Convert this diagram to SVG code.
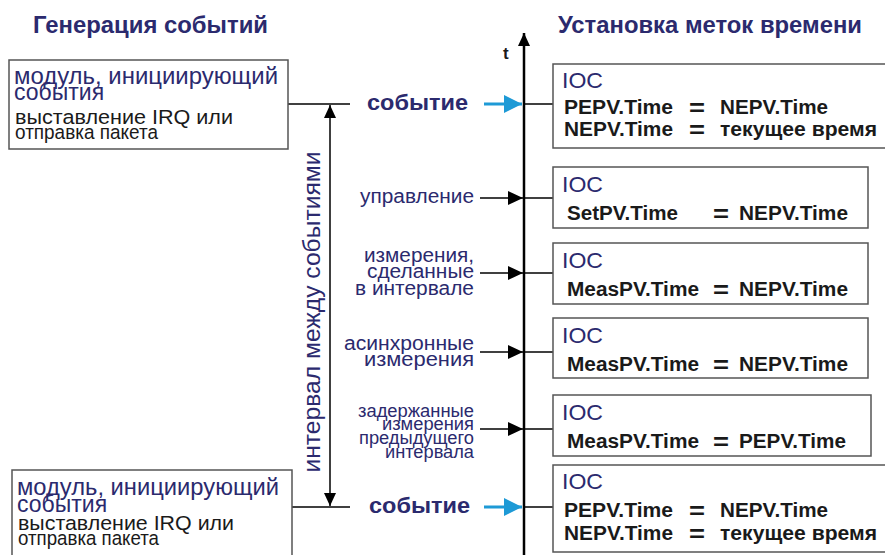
<svg xmlns="http://www.w3.org/2000/svg" width="885" height="555" viewBox="0 0 885 555">
<defs>
<style>
text{font-family:"Liberation Sans",Arial,sans-serif}
.title{font-weight:bold;font-size:23px;fill:#2b2a6e}
.mod{font-size:23px;fill:#2b2a6e}
.act{font-size:20.5px;fill:#1a1a1a}
.ev{font-weight:bold;font-size:22px;fill:#2b2a6e}
.lbl{font-size:20px;fill:#2b2a6e;text-anchor:end}
.lbls{font-size:17.5px;fill:#2b2a6e;text-anchor:end}
.ioc{font-size:22px;fill:#2b2a6e}
.eq{font-weight:bold;font-size:19.5px;fill:#1a1a1a}
.eqs{font-weight:bold;font-size:24px;fill:#1a1a1a}
.box{fill:#fff;stroke:#555;stroke-width:1.5}
.ln{stroke:#000;stroke-width:1.5;fill:none}
.ax{stroke:#000;stroke-width:2.5;fill:none}
.bl{stroke:#1e9ad6;stroke-width:3;fill:none}
</style>
<marker id="ah" markerUnits="userSpaceOnUse" markerWidth="16" markerHeight="16" refX="15" refY="7" orient="auto"><path d="M0,0 L15,7 L0,14 Z" fill="#000"/></marker>
<marker id="ahs" markerUnits="userSpaceOnUse" markerWidth="14" markerHeight="14" refX="13" refY="6" orient="auto-start-reverse"><path d="M0,0 L13,6 L0,12 Z" fill="#000"/></marker>
<marker id="ahb" markerUnits="userSpaceOnUse" markerWidth="20" markerHeight="20" refX="18" refY="9" orient="auto"><path d="M0,0 L18,9 L0,18 Z" fill="#1e9ad6"/></marker>
</defs>
<rect width="885" height="555" fill="#fff"/>

<text class="title" x="33" y="33" textLength="235" lengthAdjust="spacingAndGlyphs">Генерация событий</text>
<text class="title" x="558" y="33" textLength="304" lengthAdjust="spacingAndGlyphs">Установка меток времени</text>

<g id="connectors">
<line class="ax" x1="524" y1="555" x2="524" y2="33" marker-end="url(#ahs)"/>
<line class="ln" x1="288" y1="104" x2="350" y2="104"/>
<line class="ln" x1="292" y1="507" x2="350" y2="507"/>
<line class="ln" x1="330" y1="105" x2="330" y2="506" marker-start="url(#ahs)" marker-end="url(#ahs)"/>
<line class="bl" x1="484" y1="104" x2="522" y2="104" marker-end="url(#ahb)"/>
<line class="bl" x1="484" y1="507" x2="522" y2="507" marker-end="url(#ahb)"/>
<line class="ln" x1="480" y1="198" x2="523" y2="198" marker-end="url(#ah)"/>
<line class="ln" x1="480" y1="273" x2="523" y2="273" marker-end="url(#ah)"/>
<line class="ln" x1="480" y1="352" x2="523" y2="352" marker-end="url(#ah)"/>
<line class="ln" x1="480" y1="429" x2="523" y2="429" marker-end="url(#ah)"/>
<line class="ln" x1="524" y1="104" x2="553" y2="104"/>
<line class="ln" x1="524" y1="198" x2="553" y2="198"/>
<line class="ln" x1="524" y1="273" x2="553" y2="273"/>
<line class="ln" x1="524" y1="352" x2="553" y2="352"/>
<line class="ln" x1="524" y1="429" x2="553" y2="429"/>
<line class="ln" x1="524" y1="507" x2="553" y2="507"/>
</g>

<g id="interval-label"><text class="mod" transform="translate(320,312) rotate(-90)" text-anchor="middle" textLength="321" lengthAdjust="spacingAndGlyphs">интервал между событиями</text></g>
<g id="axis-label"><text x="503" y="59" font-weight="bold" font-size="17" fill="#1a1a1a">t</text></g>

<g id="gen-top">
<rect class="box" x="9" y="60" width="279" height="89"/>
<text class="mod" x="14" y="84" textLength="264" lengthAdjust="spacingAndGlyphs">модуль, инициирующий</text>
<text class="mod" x="14" y="100">события</text>
<text class="act" x="15" y="124" textLength="218" lengthAdjust="spacingAndGlyphs">выставление IRQ или</text>
<text class="act" x="15" y="139" textLength="143" lengthAdjust="spacingAndGlyphs">отправка пакета</text>
</g>
<g id="gen-bottom">
<rect class="box" x="12" y="470" width="280" height="95"/>
<text class="mod" x="17" y="495" textLength="262" lengthAdjust="spacingAndGlyphs">модуль, инициирующий</text>
<text class="mod" x="17" y="512">события</text>
<text class="act" x="18" y="530" textLength="216" lengthAdjust="spacingAndGlyphs">выставление IRQ или</text>
<text class="act" x="18" y="545" textLength="141" lengthAdjust="spacingAndGlyphs">отправка пакета</text>
</g>

<g id="event-top"><text class="ev" x="367" y="110" textLength="101" lengthAdjust="spacingAndGlyphs">событие</text></g>
<g id="event-bottom"><text class="ev" x="369" y="513" textLength="101" lengthAdjust="spacingAndGlyphs">событие</text></g>

<g id="lbl-control"><text class="lbl" x="474" y="203" textLength="114" lengthAdjust="spacingAndGlyphs">управление</text></g>
<g id="lbl-meas">
<text class="lbl" x="474" y="262" textLength="110" lengthAdjust="spacingAndGlyphs">измерения,</text>
<text class="lbl" x="474" y="278" textLength="107" lengthAdjust="spacingAndGlyphs">сделанные</text>
<text class="lbl" x="474" y="295" textLength="119" lengthAdjust="spacingAndGlyphs">в интервале</text>
</g>
<g id="lbl-async">
<text class="lbl" x="474" y="350" textLength="130" lengthAdjust="spacingAndGlyphs">асинхронные</text>
<text class="lbl" x="474" y="366" textLength="110" lengthAdjust="spacingAndGlyphs">измерения</text>
</g>
<g id="lbl-delayed">
<text class="lbls" x="474" y="417" textLength="116" lengthAdjust="spacingAndGlyphs">задержанные</text>
<text class="lbls" x="474" y="430" textLength="92" lengthAdjust="spacingAndGlyphs">измерения</text>
<text class="lbls" x="474" y="444" textLength="115" lengthAdjust="spacingAndGlyphs">предыдущего</text>
<text class="lbls" x="474" y="458" textLength="89" lengthAdjust="spacingAndGlyphs">интервала</text>
</g>

<g id="ioc1">
<rect class="box" x="553" y="64" width="340" height="84"/>
<text class="ioc" x="562" y="88" textLength="41" lengthAdjust="spacingAndGlyphs">IOC</text>
<text class="eq" x="564" y="114" textLength="109" lengthAdjust="spacingAndGlyphs">PEPV.Time</text>
<text class="eqs" x="689" y="116" textLength="16" lengthAdjust="spacingAndGlyphs">=</text>
<text class="eq" x="720" y="114" textLength="108" lengthAdjust="spacingAndGlyphs">NEPV.Time</text>
<text class="eq" x="564" y="136" textLength="109" lengthAdjust="spacingAndGlyphs">NEPV.Time</text>
<text class="eqs" x="689" y="138" textLength="16" lengthAdjust="spacingAndGlyphs">=</text>
<text class="eq" x="720" y="136" textLength="157" lengthAdjust="spacingAndGlyphs">текущее время</text>
</g>
<g id="ioc2">
<rect class="box" x="553" y="167" width="315" height="61"/>
<text class="ioc" x="562" y="192" textLength="41" lengthAdjust="spacingAndGlyphs">IOC</text>
<text class="eq" x="567" y="220" textLength="111" lengthAdjust="spacingAndGlyphs">SetPV.Time</text>
<text class="eqs" x="713" y="222" textLength="16" lengthAdjust="spacingAndGlyphs">=</text>
<text class="eq" x="739" y="220" textLength="109" lengthAdjust="spacingAndGlyphs">NEPV.Time</text>
</g>
<g id="ioc3">
<rect class="box" x="553" y="243" width="315" height="61"/>
<text class="ioc" x="562" y="268" textLength="41" lengthAdjust="spacingAndGlyphs">IOC</text>
<text class="eq" x="567" y="296" textLength="132" lengthAdjust="spacingAndGlyphs">MeasPV.Time</text>
<text class="eqs" x="713" y="298" textLength="16" lengthAdjust="spacingAndGlyphs">=</text>
<text class="eq" x="739" y="296" textLength="109" lengthAdjust="spacingAndGlyphs">NEPV.Time</text>
</g>
<g id="ioc4">
<rect class="box" x="553" y="318" width="315" height="60"/>
<text class="ioc" x="562" y="343" textLength="41" lengthAdjust="spacingAndGlyphs">IOC</text>
<text class="eq" x="567" y="371" textLength="132" lengthAdjust="spacingAndGlyphs">MeasPV.Time</text>
<text class="eqs" x="713" y="373" textLength="16" lengthAdjust="spacingAndGlyphs">=</text>
<text class="eq" x="739" y="371" textLength="109" lengthAdjust="spacingAndGlyphs">NEPV.Time</text>
</g>
<g id="ioc5">
<rect class="box" x="553" y="395" width="318" height="61"/>
<text class="ioc" x="562" y="420" textLength="41" lengthAdjust="spacingAndGlyphs">IOC</text>
<text class="eq" x="567" y="448" textLength="132" lengthAdjust="spacingAndGlyphs">MeasPV.Time</text>
<text class="eqs" x="713" y="450" textLength="16" lengthAdjust="spacingAndGlyphs">=</text>
<text class="eq" x="739" y="448" textLength="107" lengthAdjust="spacingAndGlyphs">PEPV.Time</text>
</g>
<g id="ioc6">
<rect class="box" x="553" y="465" width="340" height="87"/>
<text class="ioc" x="562" y="489" textLength="41" lengthAdjust="spacingAndGlyphs">IOC</text>
<text class="eq" x="564" y="517" textLength="109" lengthAdjust="spacingAndGlyphs">PEPV.Time</text>
<text class="eqs" x="689" y="519" textLength="16" lengthAdjust="spacingAndGlyphs">=</text>
<text class="eq" x="720" y="517" textLength="108" lengthAdjust="spacingAndGlyphs">NEPV.Time</text>
<text class="eq" x="564" y="540" textLength="109" lengthAdjust="spacingAndGlyphs">NEPV.Time</text>
<text class="eqs" x="689" y="542" textLength="16" lengthAdjust="spacingAndGlyphs">=</text>
<text class="eq" x="720" y="540" textLength="157" lengthAdjust="spacingAndGlyphs">текущее время</text>
</g>
</svg>
